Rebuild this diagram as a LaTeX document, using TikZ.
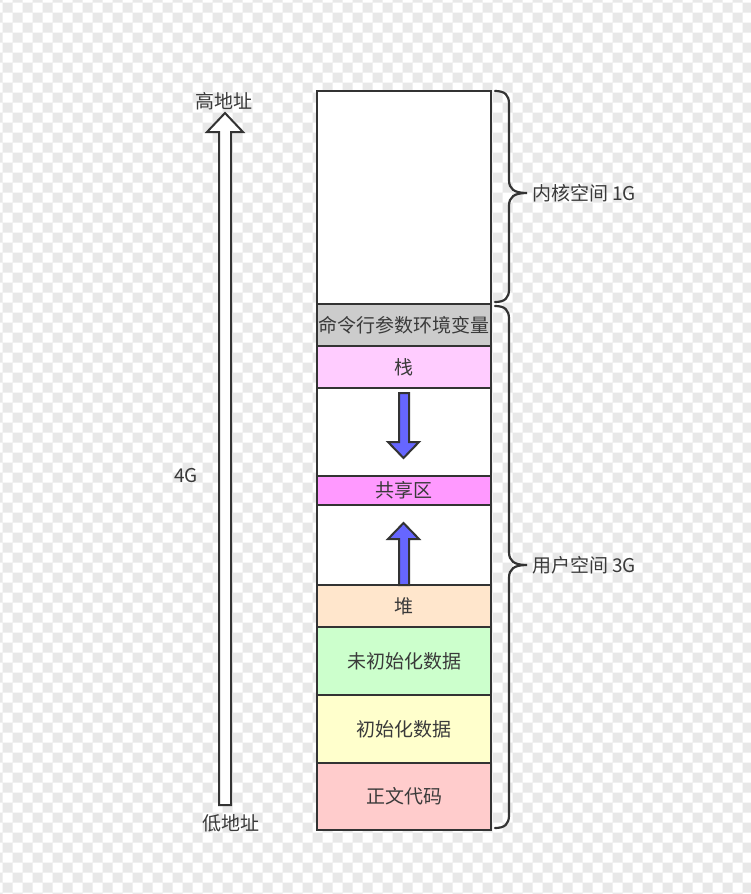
\documentclass[tikz,border=0pt]{standalone}
\usepackage{fontspec}
\newfontfamily\cjk{Noto Sans CJK SC}
\definecolor{ink}{HTML}{333333}
\definecolor{txt}{HTML}{3A3A3A}
\definecolor{chkgray}{HTML}{E8E8E8}
\definecolor{envc}{HTML}{CCCCCC}
\definecolor{stackc}{HTML}{FFCCFF}
\definecolor{sharec}{HTML}{FF99FF}
\definecolor{heapc}{HTML}{FFE6CC}
\definecolor{bssc}{HTML}{CCFFCC}
\definecolor{datac}{HTML}{FFFFCC}
\definecolor{textc}{HTML}{FFCCCC}
\definecolor{bluec}{HTML}{6666FF}
\begin{document}
\begin{tikzpicture}[x=1pt,y=-1pt,
  blk/.style={draw=ink, line width=2pt, fill=white, minimum width=174pt, inner sep=0pt, outer sep=0pt, anchor=north west, font=\cjk\fontsize{19}{19}\selectfont, text=txt},
  lbl/.style={inner sep=0pt, font=\cjk\fontsize{19}{19}\selectfont, text=txt},
  bigarrow/.style={draw=ink, line width=2pt, fill=white, line join=miter},
  bluearrow/.style={draw=ink, line width=2pt, fill=bluec, line join=miter},
  bracestyle/.style={draw=ink, line width=2.2pt, line cap=round}]
\useasboundingbox (0,0) rectangle (751,894);
\begin{scope}
\clip (0,0) rectangle (751,894);
\fill[white] (0,0) rectangle (751,894);
\fill[chkgray] \foreach \a in {-1,...,37}{\foreach \b in {-1,...,45}{
   (2.7+20*\a,2.7+20*\b) rectangle ++(10,10)
   (12.7+20*\a,12.7+20*\b) rectangle ++(10,10)}};
\end{scope}
% memory blocks
\node[blk, minimum height=213pt] (kernel) at (317,91) {};
\node[blk, minimum height=42pt, fill=envc] (env) at (317,304) {命令行参数环境变量};
\node[blk, minimum height=42pt, fill=stackc] (stack) at (317,346) {栈};
\node[blk, minimum height=88pt] (gapa) at (317,388) {};
\node[blk, minimum height=29pt, fill=sharec] (shared) at (317,476) {共享区};
\node[blk, minimum height=80pt] (gapb) at (317,505) {};
\node[blk, minimum height=42pt, fill=heapc] (heap) at (317,585) {堆};
\node[blk, minimum height=68pt, fill=bssc] (bss) at (317,627) {未初始化数据};
\node[blk, minimum height=68pt, fill=datac] (data) at (317,695) {初始化数据};
\node[blk, minimum height=67pt, fill=textc] (code) at (317,763) {正文代码};
% blue arrows
\draw[bluearrow] (399,393) -- (399,442) -- (388,442) -- (403.5,458) -- (419,442) -- (409,442) -- (409,393) -- cycle;
\draw[bluearrow] (399,585) -- (399,539) -- (388,539) -- (403.5,523) -- (419,539) -- (409,539) -- (409,585) -- cycle;
% big address arrow
\draw[bigarrow] (219,805) -- (219,132) -- (207,132) -- (225,113) -- (243,132) -- (231,132) -- (231,805) -- cycle;
\node[lbl] (hi) at (224,101) {高地址};
\node[lbl] (lo) at (231,823) {低地址};
\node[lbl] (fourg) at (186,476) {4G};
% braces
\draw[bracestyle] (495,91) .. controls (505,91) and (509,95) .. (509,104) -- (509,180)
   .. controls (509,189) and (514,193) .. (527,193)
   .. controls (514,193) and (509,197) .. (509,206) -- (509,289)
   .. controls (509,298) and (505,302) .. (495,302);
\draw[bracestyle] (495,306) .. controls (505,306) and (509,310) .. (509,319) -- (509,552)
   .. controls (509,561) and (514,565) .. (527,565)
   .. controls (514,565) and (509,569) .. (509,578) -- (509,815)
   .. controls (509,824) and (505,828) .. (495,828);
\node[lbl, anchor=west] (klabel) at (532,193) {内核空间 1G};
\node[lbl, anchor=west] (ulabel) at (532,565) {用户空间 3G};
\end{tikzpicture}
\end{document}
